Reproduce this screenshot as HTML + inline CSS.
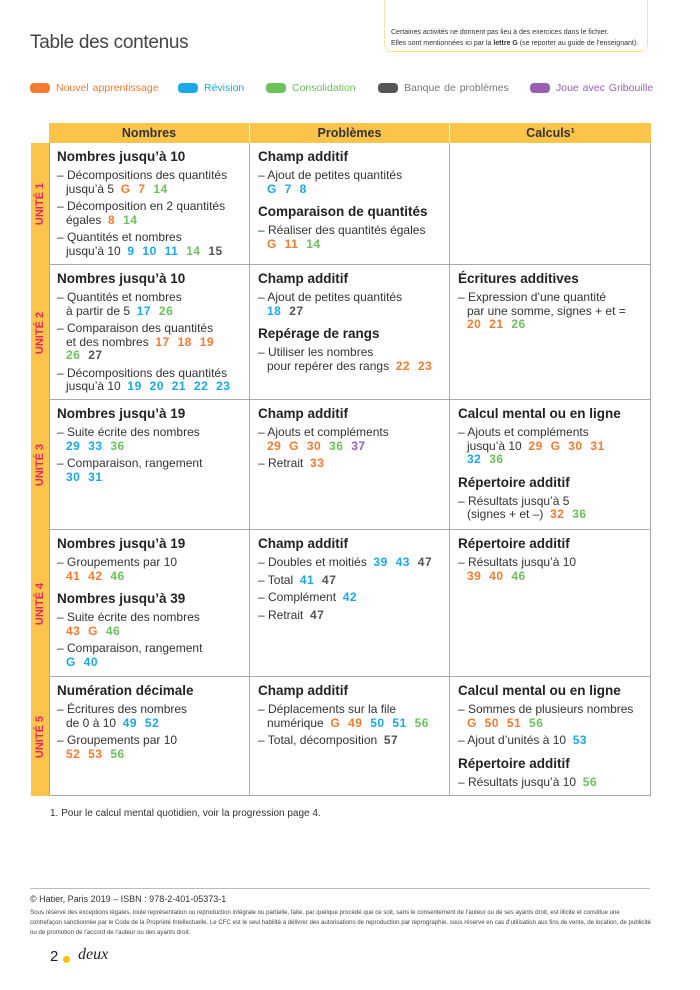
<!DOCTYPE html>
<html><head><meta charset="utf-8"><style>
*{margin:0;padding:0;box-sizing:border-box}
body{width:700px;height:990px;background:#fff;font-family:"Liberation Sans",sans-serif;color:#333;position:relative;overflow:hidden}
.abs{position:absolute}
h1{position:absolute;left:30px;top:32px;font-size:19px;font-weight:normal;color:#444;letter-spacing:-0.3px}
.note{position:absolute;left:384px;top:-10px;width:264px;height:62px;border:1px dotted #f2c94c;border-radius:8px;font-size:7px;color:#333;padding:36px 0 0 6px;line-height:11px}
.leg{position:absolute;top:82px;font-size:10.5px;display:flex;align-items:center;word-spacing:1px}
.leg i{display:inline-block;width:20px;height:10px;border-radius:4px;margin-right:6px}
.o{color:#f47b30}.b{color:#1aa9e6}.g{color:#6cc15a}.k{color:#555}.p{color:#9b5fb0}
.hdr{position:absolute;top:123px;height:20px;background:#fcc44a;font-size:12.5px;font-weight:bold;color:#333;text-align:center;line-height:20px}
.unit{position:absolute;left:31px;width:18px;background:#fcc44a}
.unit span{position:absolute;left:50%;top:50%;transform:translate(-50%,-50%) rotate(-90deg);color:#e8285a;font-size:11px;font-weight:bold;white-space:nowrap}
.cell{position:absolute;border-right:1px solid #aaa;border-bottom:1px solid #aaa;padding:6px 0 0 8px;font-size:12px;line-height:13.5px;white-space:nowrap}
.cell h3{font-size:13.5px;line-height:16px;font-weight:bold;color:#222;margin-bottom:4px}
.cell h3.s{margin-top:8px}
.cell p{margin-top:4px;padding-left:9px;text-indent:-9px}
.n{font-weight:bold;letter-spacing:0.5px;word-spacing:4px}
</style></head><body>
<div class="note">Certaines activités ne donnent pas lieu à des exercices dans le fichier.<br>Elles sont mentionnées ici par la <b>lettre G</b> (se reporter au guide de l’enseignant).</div>
<h1>Table des contenus</h1>
<div class="leg o" style="left:30px"><i style="background:#f47b30"></i>Nouvel apprentissage</div>
<div class="leg b" style="left:178px"><i style="background:#1aa9e6"></i>Révision</div>
<div class="leg g" style="left:266px"><i style="background:#6cc15a"></i>Consolidation</div>
<div class="leg k" style="left:378px;color:#777"><i style="background:#555"></i>Banque de problèmes</div>
<div class="leg p" style="left:530px"><i style="background:#9b5fb0"></i>Joue avec Gribouille</div>

<div class="hdr" style="left:49px;width:200px">Nombres</div>
<div class="hdr" style="left:250px;width:199px">Problèmes</div>
<div class="hdr" style="left:450px;width:201px">Calculs¹</div>
<div class="abs" style="left:249px;top:123px;width:1px;height:20px;background:#fff"></div>
<div class="abs" style="left:449px;top:123px;width:1px;height:20px;background:#fff"></div>

<div class="unit" style="top:143px;height:122px"><span>UNITÉ 1</span></div>
<div class="unit" style="top:265px;height:135px"><span>UNITÉ 2</span></div>
<div class="unit" style="top:400px;height:130px"><span>UNITÉ 3</span></div>
<div class="unit" style="top:530px;height:147px"><span>UNITÉ 4</span></div>
<div class="unit" style="top:677px;height:119px"><span>UNITÉ 5</span></div>

<div class="cell" style="left:49px;top:143px;width:201px;height:122px"><h3>Nombres jusqu’à 10</h3>
<p>– Décompositions des quantités<br>jusqu’à 5 &nbsp;<span class="n"><span class="o">G 7</span> <span class="g">14</span></span></p>
<p>– Décomposition en 2 quantités<br>égales &nbsp;<span class="n"><span class="o">8</span> <span class="g">14</span></span></p>
<p>– Quantités et nombres<br>jusqu’à 10 &nbsp;<span class="n"><span class="b">9 10 11</span> <span class="g">14</span> <span class="k">15</span></span></p></div>
<div class="cell" style="left:250px;top:143px;width:200px;height:122px"><h3>Champ additif</h3>
<p>– Ajout de petites quantités<br><span class="n b">G 7 8</span></p>
<h3 class="s">Comparaison de quantités</h3>
<p>– Réaliser des quantités égales<br><span class="n"><span class="o">G 11</span> <span class="g">14</span></span></p></div>
<div class="cell" style="left:450px;top:143px;width:201px;height:122px"></div>

<div class="cell" style="left:49px;top:265px;width:201px;height:135px"><h3>Nombres jusqu’à 10</h3>
<p>– Quantités et nombres<br>à partir de 5 &nbsp;<span class="n"><span class="b">17</span> <span class="g">26</span></span></p>
<p>– Comparaison des quantités<br>et des nombres &nbsp;<span class="n"><span class="o">17 18 19</span><br><span class="g">26</span> <span class="k">27</span></span></p>
<p>– Décompositions des quantités<br>jusqu’à 10 &nbsp;<span class="n b">19 20 21 22 23</span></p></div>
<div class="cell" style="left:250px;top:265px;width:200px;height:135px"><h3>Champ additif</h3>
<p>– Ajout de petites quantités<br><span class="n"><span class="b">18</span> <span class="k">27</span></span></p>
<h3 class="s">Repérage de rangs</h3>
<p>– Utiliser les nombres<br>pour repérer des rangs &nbsp;<span class="n o">22 23</span></p></div>
<div class="cell" style="left:450px;top:265px;width:201px;height:135px"><h3>Écritures additives</h3>
<p>– Expression d’une quantité<br>par une somme, signes + et =<br><span class="n"><span class="o">20 21</span> <span class="g">26</span></span></p></div>

<div class="cell" style="left:49px;top:400px;width:201px;height:130px"><h3>Nombres jusqu’à 19</h3>
<p>– Suite écrite des nombres<br><span class="n"><span class="b">29 33</span> <span class="g">36</span></span></p>
<p>– Comparaison, rangement<br><span class="n b">30 31</span></p></div>
<div class="cell" style="left:250px;top:400px;width:200px;height:130px"><h3>Champ additif</h3>
<p>– Ajouts et compléments<br><span class="n"><span class="o">29 G 30</span> <span class="g">36</span> <span class="p">37</span></span></p>
<p>– Retrait &nbsp;<span class="n o">33</span></p></div>
<div class="cell" style="left:450px;top:400px;width:201px;height:130px"><h3>Calcul mental ou en ligne</h3>
<p>– Ajouts et compléments<br>jusqu’à 10 &nbsp;<span class="n o">29 G 30 31</span><br><span class="n"><span class="b">32</span> <span class="g">36</span></span></p>
<h3 class="s">Répertoire additif</h3>
<p>– Résultats jusqu’à 5<br>(signes + et –) &nbsp;<span class="n"><span class="o">32</span> <span class="g">36</span></span></p></div>

<div class="cell" style="left:49px;top:530px;width:201px;height:147px"><h3>Nombres jusqu’à 19</h3>
<p>– Groupements par 10<br><span class="n"><span class="o">41 42</span> <span class="g">46</span></span></p>
<h3 class="s">Nombres jusqu’à 39</h3>
<p>– Suite écrite des nombres<br><span class="n"><span class="o">43 G</span> <span class="g">46</span></span></p>
<p>– Comparaison, rangement<br><span class="n b">G 40</span></p></div>
<div class="cell" style="left:250px;top:530px;width:200px;height:147px"><h3>Champ additif</h3>
<p>– Doubles et moitiés &nbsp;<span class="n"><span class="b">39 43</span> <span class="k">47</span></span></p>
<p>– Total &nbsp;<span class="n"><span class="b">41</span> <span class="k">47</span></span></p>
<p>– Complément &nbsp;<span class="n b">42</span></p>
<p>– Retrait &nbsp;<span class="n k">47</span></p></div>
<div class="cell" style="left:450px;top:530px;width:201px;height:147px"><h3>Répertoire additif</h3>
<p>– Résultats jusqu’à 10<br><span class="n"><span class="o">39 40</span> <span class="g">46</span></span></p></div>

<div class="cell" style="left:49px;top:677px;width:201px;height:119px"><h3>Numération décimale</h3>
<p>– Écritures des nombres<br>de 0 à 10 &nbsp;<span class="n b">49 52</span></p>
<p>– Groupements par 10<br><span class="n"><span class="o">52 53</span> <span class="g">56</span></span></p></div>
<div class="cell" style="left:250px;top:677px;width:200px;height:119px"><h3>Champ additif</h3>
<p>– Déplacements sur la file<br>numérique &nbsp;<span class="n"><span class="o">G 49</span> <span class="b">50 51</span> <span class="g">56</span></span></p>
<p>– Total, décomposition &nbsp;<span class="n k">57</span></p></div>
<div class="cell" style="left:450px;top:677px;width:201px;height:119px"><h3>Calcul mental ou en ligne</h3>
<p>– Sommes de plusieurs nombres<br><span class="n"><span class="o">G 50 51</span> <span class="g">56</span></span></p>
<p>– Ajout d’unités à 10 &nbsp;<span class="n b">53</span></p>
<h3 class="s">Répertoire additif</h3>
<p>– Résultats jusqu’à 10 &nbsp;<span class="n g">56</span></p></div>

<div class="abs" style="left:49px;top:143px;width:1px;height:653px;background:#aaa"></div>

<div class="abs" style="left:50px;top:808px;font-size:10px;color:#333">1. Pour le calcul mental quotidien, voir la progression page 4.</div>
<div class="abs" style="left:30px;top:888px;width:620px;height:1px;background:#bbb"></div>
<div class="abs" style="left:30px;top:894px;font-size:9px;color:#333">© Hatier, Paris 2019 – ISBN : 978-2-401-05373-1</div>
<div class="abs" style="left:30px;top:908px;width:622px;font-size:6.1px;line-height:10px;color:#444">Sous réserve des exceptions légales, toute représentation ou reproduction intégrale ou partielle, faite, par quelque procédé que ce soit, sans le consentement de l’auteur ou de ses ayants droit, est illicite et constitue une contrefaçon sanctionnée par le Code de la Propriété Intellectuelle. Le CFC est le seul habilité à délivrer des autorisations de reproduction par reprographie, sous réserve en cas d’utilisation aux fins de vente, de location, de publicité ou de promotion de l’accord de l’auteur ou des ayants droit.</div>
<div class="abs" style="left:50px;top:948px;font-size:15px;color:#222">2</div>
<div class="abs" style="left:63px;top:956px;width:7px;height:7px;border-radius:50%;background:#fcc000"></div>
<div class="abs" style="left:78px;top:946px;font-size:16px;font-style:italic;font-family:'Liberation Serif',serif;color:#222">deux</div>
</body></html>
